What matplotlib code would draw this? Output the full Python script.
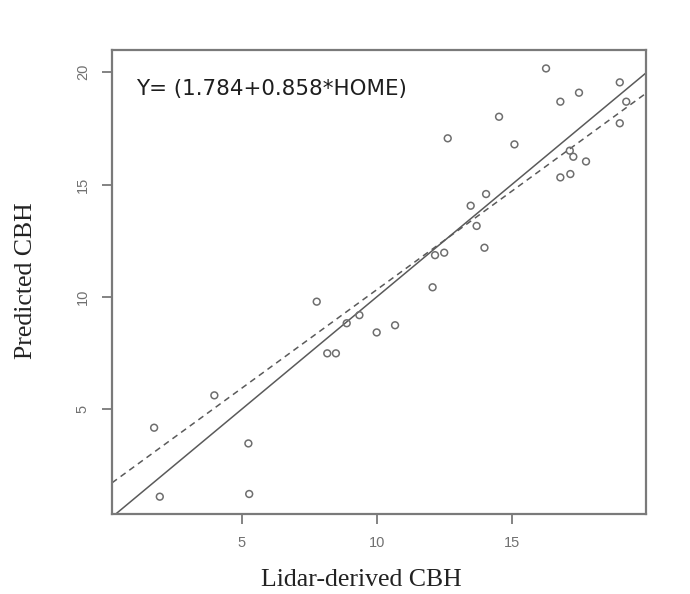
import matplotlib
matplotlib.use("Agg")
from matplotlib import pyplot as plt
import numpy as np

# observed (lidar-derived) vs predicted crown base height
lidar_cbh = [1.76, 1.97, 3.99, 5.25, 5.28, 7.78, 8.17, 8.49, 8.89, 9.36, 10.0,
             10.68, 12.07, 12.16, 12.5, 13.48, 13.7, 13.99, 12.63, 14.05, 14.53,
             15.1, 16.27, 16.8, 16.8, 17.17, 17.15, 17.28, 17.75, 17.49, 19.0,
             19.0, 19.24]
predicted_cbh = [4.18, 1.11, 5.62, 3.48, 1.23, 9.79, 7.49, 7.49, 8.83, 9.19, 8.42,
                 8.74, 10.43, 11.86, 11.97, 14.06, 13.16, 12.19, 17.06, 14.58, 18.02,
                 16.79, 20.17, 18.69, 15.32, 15.47, 16.51, 16.24, 16.03, 19.09, 19.55,
                 17.73, 18.69]

# dashed fit line as drawn in the picture
fit_intercept = 1.55
fit_slope = 0.877
equation = "Y= (1.784+0.858*HOME)"
x_ticks = [5, 10, 15]
y_ticks = [5, 10, 15, 20]

frame_col = "#7a7a7a"
text_col = "#707070"

fig = plt.figure(figsize=(6.9, 5.94), dpi=100)
ax = fig.add_axes([0.1623, 0.1347, 0.7739, 0.7811])

xlim = (0.2, 19.97)
ylim = (0.34, 20.99)

ax.scatter(lidar_cbh, predicted_cbh, s=24, facecolors="none", edgecolors="#6e6e6e",
           linewidths=1.1, zorder=3)

xx = np.array(xlim)
ax.plot(xx, xx, color="#5a5a5a", lw=1.1)  # 1:1 line
ax.plot(xx, fit_intercept + fit_slope * xx, color="#5a5a5a", lw=1.1, ls=(0, (4, 3)))

ax.set_xlim(*xlim)
ax.set_ylim(*ylim)
ax.set_xticks(x_ticks)
ax.set_yticks(y_ticks)
ax.set_xticklabels([str(t) for t in x_ticks])
ax.set_yticklabels([str(t) for t in y_ticks], rotation=90, va="center")

for sp in ax.spines.values():
    sp.set_color(frame_col)
    sp.set_linewidth(1.6)

ax.tick_params(direction="out", length=7, width=1.3, color=frame_col,
               labelcolor=text_col, labelsize=10.5, pad=9)
for lab in ax.get_xticklabels() + ax.get_yticklabels():
    lab.set_family("Liberation Sans")

fig.text(0.5232, 0.0236, "Lidar-derived CBH", family="Liberation Serif", fontsize=18.5,
         color="#222222", ha="center", va="center")
fig.text(0.0377, 0.528, "Predicted CBH", family="Liberation Serif", fontsize=18.5,
         color="#222222", ha="center", va="center", rotation=90)

ax.text(0.045, 0.915, equation, transform=ax.transAxes,
        family="DejaVu Sans", fontsize=15.4, color="#1e1e1e", va="center", ha="left")

fig.savefig("out.png", dpi=100)
